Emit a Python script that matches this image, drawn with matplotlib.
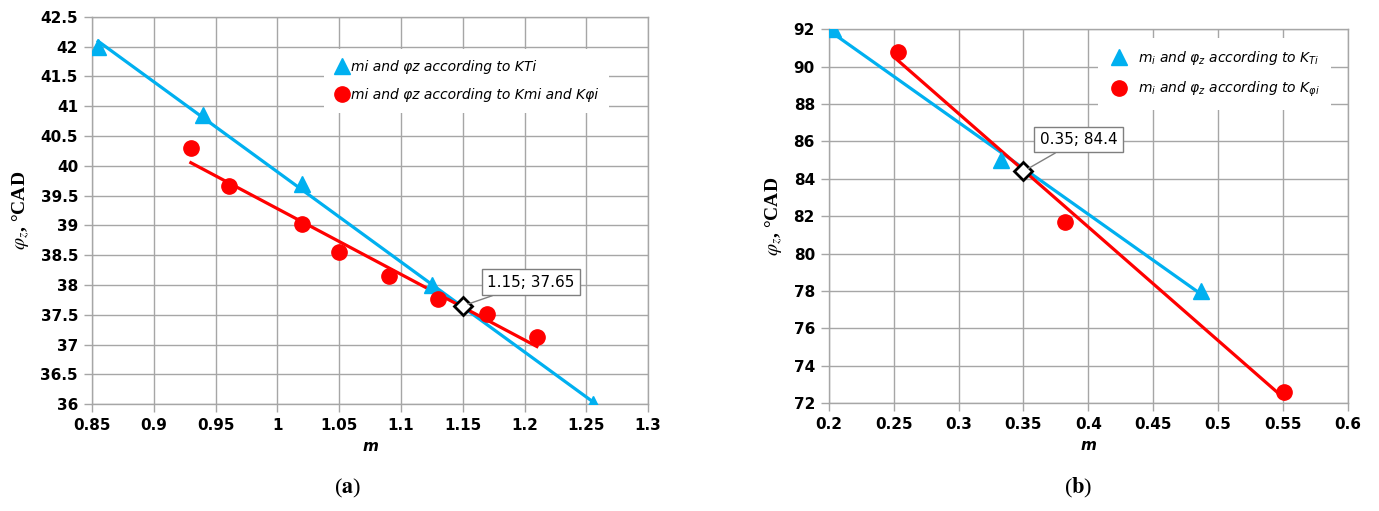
import numpy as np
import matplotlib
matplotlib.use("Agg")
import matplotlib.pyplot as plt

plt.rcParams["font.family"] = ["DejaVu Sans"]
plt.rcParams["mathtext.fontset"] = "dejavusans"

# (a) dane
a_m_kt = [0.855, 0.94, 1.02, 1.125, 1.255]
a_phi_kt = [42.0, 40.85, 39.7, 38.0, 36.0]
a_m_km = [0.93, 0.961, 1.02, 1.05, 1.09, 1.13, 1.17, 1.21]
a_phi_km = [40.3, 39.66, 39.02, 38.55, 38.15, 37.76, 37.51, 37.12]
a_cross = (1.15, 37.65)

# (b) dane
b_m_kt = [0.203, 0.333, 0.487]
b_phi_kt = [92.0, 85.0, 78.0]
b_m_kp = [0.253, 0.382, 0.551]
b_phi_kp = [90.8, 81.7, 72.6]
b_cross = (0.35, 84.4)

BLUE = "#00B0F0"
RED = "#FF0000"
GRID = "#A6A6A6"

fig = plt.figure(figsize=(13.79, 5.11), dpi=100)
ax1 = fig.add_axes([0.0667, 0.209, 0.4033, 0.758])
ax2 = fig.add_axes([0.601, 0.211, 0.3765, 0.732])


def trend(ax, x, y, color):
    k, b = np.polyfit(x, y, 1)
    xs = np.array([min(x), max(x)])
    ax.plot(xs, k * xs + b, color=color, lw=2.3, zorder=3)


def style(ax, xlim, xticks, xlabels, ylim, yticks, ylabels):
    ax.set_xlim(*xlim)
    ax.set_ylim(*ylim)
    ax.set_xticks(xticks)
    ax.set_xticklabels(xlabels, fontsize=11, fontweight="bold")
    ax.set_yticks(yticks)
    ax.set_yticklabels(ylabels, fontsize=11, fontweight="bold")
    ax.grid(True, color=GRID, lw=1.0)
    for s in ax.spines.values():
        s.set_color(GRID)
        s.set_linewidth(1.0)
    ax.tick_params(length=6, width=1.0, color=GRID, direction="out", pad=4)
    ax.set_axisbelow(True)
    ax.set_xlabel("m", fontsize=11, fontweight="bold", fontstyle="italic", labelpad=4)
    ax.set_ylabel(r"$\boldsymbol{\varphi_z}$, °CAD", fontsize=14, fontweight="bold",
                  family=["Liberation Serif", "DejaVu Serif"],
                  math_fontfamily="stix", labelpad=6)


# --- (a)
trend(ax1, a_m_kt, a_phi_kt, BLUE)
trend(ax1, a_m_km, a_phi_km, RED)
ax1.plot(a_m_kt, a_phi_kt, "^", color=BLUE, ms=11, zorder=4,
         label="mi and φz according to KTi")
ax1.plot(a_m_km, a_phi_km, "o", color=RED, ms=11, zorder=4,
         label="mi and φz according to Kmi and Kφi")
ax1.plot(*a_cross, "D", mfc="white", mec="black", mew=2, ms=9, zorder=5)
ax1.annotate(f"{a_cross[0]:.2f}; {a_cross[1]:.2f}", xy=a_cross,
             xytext=(1.17, 37.97), fontsize=11,
             bbox=dict(boxstyle="square,pad=0.35", fc="white", ec="#7F7F7F", lw=1),
             arrowprops=dict(arrowstyle="-", color="#7F7F7F", lw=1,
                             shrinkA=0, shrinkB=4), zorder=6)
a_x = np.arange(0.85, 1.3001, 0.05)
a_y = np.arange(36, 42.501, 0.5)
style(ax1, (0.85, 1.3), a_x, [f"{v:g}" for v in a_x],
      (36, 42.5), a_y, [f"{v:g}" for v in a_y])
ax1.legend(loc="upper left", bbox_to_anchor=(0.405, 0.935), frameon=True,
           edgecolor="none", facecolor="white", framealpha=1,
           prop={"size": 10, "style": "italic"}, handletextpad=0.1,
           handlelength=1.0, labelspacing=1.0, borderpad=0.8)

# --- (b)
trend(ax2, b_m_kt, b_phi_kt, BLUE)
trend(ax2, b_m_kp, b_phi_kp, RED)
ax2.plot(b_m_kt, b_phi_kt, "^", color=BLUE, ms=11, zorder=4,
         label=r"$m_i$ and $\varphi_z$ according to $K_{Ti}$")
ax2.plot(b_m_kp, b_phi_kp, "o", color=RED, ms=11, zorder=4,
         label=r"$m_i$ and $\varphi_z$ according to $K_{\varphi i}$")
ax2.plot(*b_cross, "D", mfc="white", mec="black", mew=2, ms=9, zorder=5)
ax2.annotate(f"{b_cross[0]:.2f}; {b_cross[1]:.1f}", xy=b_cross,
             xytext=(0.3625, 85.85), fontsize=11,
             bbox=dict(boxstyle="square,pad=0.35", fc="white", ec="#7F7F7F", lw=1),
             arrowprops=dict(arrowstyle="-", color="#7F7F7F", lw=1,
                             shrinkA=0, shrinkB=4), zorder=6)
b_x = np.arange(0.2, 0.6001, 0.05)
b_y = np.arange(72, 92.01, 2)
style(ax2, (0.2, 0.6), b_x, [f"{v:g}" for v in b_x],
      (72, 92), b_y, [f"{v:g}" for v in b_y])
ax2.legend(loc="upper left", bbox_to_anchor=(0.505, 0.995), frameon=True,
           edgecolor="none", facecolor="white", framealpha=1,
           prop={"size": 10, "style": "italic"}, handletextpad=0.6,
           handlelength=1.5, labelspacing=0.9, borderpad=0.8)

fig.text(0.252, 0.035, r"($\mathbf{a}$)", fontsize=16,
         family=["Liberation Serif"], math_fontfamily="stix", ha="center")
fig.text(0.782, 0.035, r"($\mathbf{b}$)", fontsize=16,
         family=["Liberation Serif"], math_fontfamily="stix", ha="center")

fig.savefig("out.png", dpi=100)
